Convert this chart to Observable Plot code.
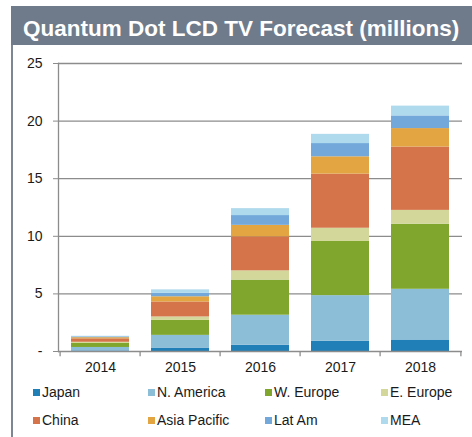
<!DOCTYPE html>
<html>
<head>
<meta charset="utf-8">
<script src="https://cdn.jsdelivr.net/npm/d3@7"></script>
<script src="https://cdn.jsdelivr.net/npm/@observablehq/plot@0.6"></script>
<style>
  body { margin: 0; background: #fff; font-family: "Liberation Sans", Arial, sans-serif; }
  #wrap { position: relative; width: 472px; height: 437px; overflow: hidden; }
  #title { position: absolute; left: 11px; top: 6px; width: 461px; height: 39px; background: #6f7b8b;
           color: #fff; font-weight: bold; font-size: 22.5px; line-height: 40px; box-sizing: border-box; padding-left: 12px; padding-top: 3px; white-space: nowrap; }
  #border { position: absolute; left: 11px; top: 45px; width: 2px; height: 392px; background: #7d8794; }
  #chart { position: absolute; left: 0; top: 45px; }
  #legend { position: absolute; left: 0; top: 380px; width: 472px; }
  .item { position: absolute; font-size: 14px; color: #1a1a1a; display: flex; align-items: center; white-space: nowrap; }
  .sw { width: 7px; height: 7px; margin-right: 2px; }
</style>
</head>
<body>
<div id="wrap">
  <div id="title">Quantum Dot LCD TV Forecast (millions)</div>
  <div id="border"></div>
  <div id="chart"></div>
  <div id="legend"></div>
</div>
<script>
const years = ["2014", "2015", "2016", "2017", "2018"];
const regions = ["Japan", "N. America", "W. Europe", "E. Europe", "China", "Asia Pacific", "Lat Am", "MEA"];
const colors = ["#1f7fb6", "#8dbed8", "#80a62e", "#d3d89a", "#d5744a", "#e3a542", "#72a9da", "#afd9ec"];
const japan      = [0.05, 0.30, 0.55, 0.90, 1.00];
const nAmerica   = [0.30, 1.10, 2.60, 3.95, 4.40];
const wEurope    = [0.35, 1.30, 3.05, 4.70, 5.65];
const eEurope    = [0.10, 0.30, 0.80, 1.15, 1.20];
const china      = [0.30, 1.30, 2.95, 4.70, 5.50];
const asiaPac    = [0.10, 0.45, 1.00, 1.50, 1.60];
const latAm      = [0.07, 0.30, 0.85, 1.15, 1.10];
const mea        = [0.05, 0.30, 0.60, 0.80, 0.85];
const yTicks = [0, 5, 10, 15, 20, 25];

const seriesValues = [japan, nAmerica, wEurope, eEurope, china, asiaPac, latAm, mea];
const data = [];
regions.forEach((r, i) => years.forEach((y, j) => data.push({year: y, region: r, value: seriesValues[i][j]})));

const W = 472, ML = 58, MR = 10;
const step = (W - ML - MR) / years.length;
const font = "'Liberation Sans', Arial, sans-serif";
const axisGray = "#8c8c8c";

const chart = Plot.plot({
  width: W,
  height: 335,
  marginLeft: ML,
  marginRight: MR,
  marginTop: 18,
  marginBottom: 29,
  style: {fontFamily: font, fontSize: "14px", color: "#1a1a1a", background: "transparent"},
  x: {domain: years, paddingInner: 0.27, paddingOuter: 0.135, axis: null},
  y: {domain: [0, 25], axis: null},
  color: {domain: regions, range: colors},
  marks: [
    Plot.gridY(yTicks.filter(d => d > 0), {stroke: axisGray, strokeOpacity: 1, strokeWidth: 1.3}),
    Plot.barY(data, {x: "year", y: "value", fill: "region", order: regions}),
    Plot.ruleY([0], {stroke: axisGray, strokeWidth: 1.3}),
    Plot.frame({anchor: "left", stroke: axisGray, strokeWidth: 1.3}),
    Plot.axisY(yTicks, {tickSize: 5, tickPadding: 11, stroke: axisGray, fill: "#1a1a1a", label: null,
      tickFormat: d => d === 0 ? "-" : String(d), fontSize: 14}),
    Plot.ruleX(years, {x: d => d, y1: 0, y2: -0.45, dx: -step / 2, stroke: axisGray, strokeWidth: 1.3}),
    Plot.ruleX([years[years.length - 1]], {x: d => d, y1: 0, y2: -0.45, dx: step / 2, stroke: axisGray, strokeWidth: 1.3}),
    Plot.axisX({tickSize: 0, tickPadding: 11, fontSize: 14, fill: "#1a1a1a", label: null})
  ]
});
document.getElementById("chart").appendChild(chart);

const legend = document.getElementById("legend");
const colX = [33, 148, 265, 381];
const rowY = [4, 32];
regions.forEach((r, i) => {
  const it = document.createElement("div");
  it.className = "item";
  it.style.left = colX[i % 4] + "px";
  it.style.top = rowY[Math.floor(i / 4)] + "px";
  it.innerHTML = `<span class="sw" style="background:${colors[i]}"></span><span>${r}</span>`;
  legend.appendChild(it);
});
</script>
</body>
</html>
